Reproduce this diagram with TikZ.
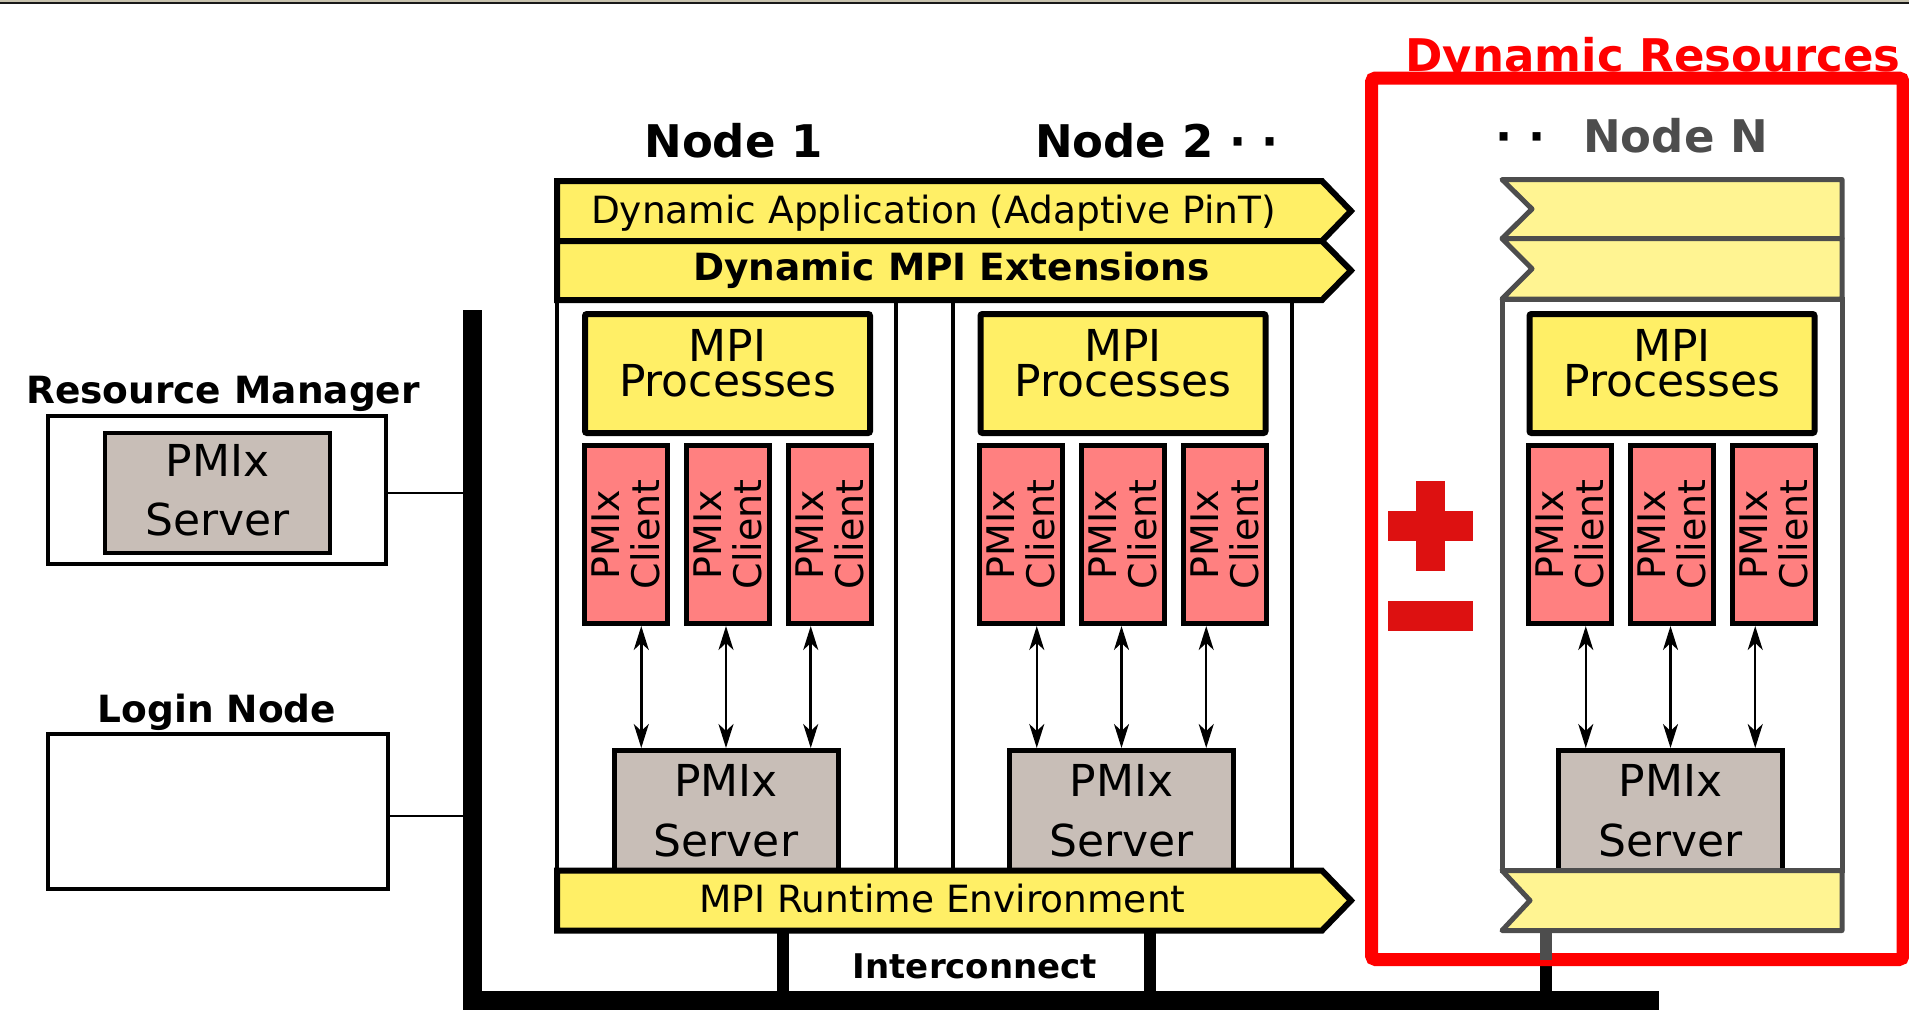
\documentclass[tikz,border=0pt]{standalone}
\usepackage{fontspec}
\setmainfont{DejaVu Sans}
\usetikzlibrary{arrows.meta,calc,positioning}

\definecolor{barfill}{HTML}{FFEF66}
\definecolor{barfaint}{HTML}{FFF492}
\definecolor{clifill}{HTML}{FF8080}
\definecolor{srvfill}{HTML}{C8BEB7}
\definecolor{dimgray}{HTML}{4D4D4D}
\definecolor{signred}{HTML}{DD1111}
\definecolor{rim}{HTML}{C8C3AF}

\begin{document}
\begin{tikzpicture}[x=1pt,y=-1pt]
        \tikzstyle{head}=[anchor=base,inner sep=0,font=\fontsize{45}{54}\selectfont\bfseries]
        \tikzstyle{sub}=[anchor=base,inner sep=0,font=\fontsize{37.5}{45}\selectfont\bfseries]
        \tikzstyle{bartxt}=[anchor=base,inner sep=0,font=\fontsize{37.5}{45}\selectfont]
        \tikzstyle{bar}=[draw=black,line width=6pt,fill=barfill]
        \tikzstyle{barN}=[draw=dimgray,line width=5pt,fill=barfaint,line join=round]
        \tikzstyle{container}=[draw=black,line width=4pt,inner sep=0,minimum width=339pt,minimum height=750pt]
        \tikzstyle{box}=[draw=black,line width=4pt,inner sep=0]
        \tikzstyle{procbox}=[draw=black,line width=6pt,fill=barfill,rounded corners=2pt,minimum width=285pt,minimum height=119pt,inner sep=0]
        \tikzstyle{proctxt}=[align=center,inner sep=0,yshift=10pt,font=\fontsize{44}{35}\selectfont]
        \tikzstyle{clibox}=[draw=black,line width=5pt,fill=clifill,minimum width=83pt,minimum height=178pt,inner sep=0]
        \tikzstyle{clitxt}=[align=center,inner sep=0,rotate=90,font=\fontsize{38}{40}\selectfont]
        \tikzstyle{server}=[draw=black,line width=5pt,fill=srvfill,minimum width=224pt,minimum height=120pt,inner sep=0,align=center,font=\fontsize{44}{60}\selectfont]
        \tikzstyle{link}=[line width=2.5pt,{Stealth[length=24pt,width=15pt,inset=7pt]}-{Stealth[length=24pt,width=15pt,inset=7pt]}]
        \tikzstyle{wire}=[line width=2.5pt]
        \tikzstyle{post}=[line width=12pt]
        \tikzstyle{sign}=[fill=signred,inner sep=0]

        \useasboundingbox (0,0) rectangle (1909,1015);
        \fill[rim] (0,0) rectangle (1909,1.5);
        \fill[black!90] (0,1.5) rectangle (1909,4);

        % compute nodes
        \node[container] (n1) at (726,556) {};
        \node[container] (n2) at (1122.5,556) {};
        \node[container,draw=dimgray,line width=5pt,minimum width=340pt,minimum height=571.5pt] (nN) at (1672,584.75) {};

        \foreach \k/\x in {1/727.5,2/1123,N/1672} {
          \node[server] (s\k) at (\x-1.5,810.5) {PMIx\\Server};
          \node[procbox] (p\k) at (\x,373.5) {};
          \node[proctxt] at (p\k) {MPI\\Processes};
          \foreach \i/\dx in {1/-102,2/0,3/102} {
            \node[clibox] (c\k\i) at (\x+\dx,534.5) {};
            \node[clitxt] at (c\k\i) {PMIx\\Client};
          }
          \foreach \i/\f in {1/0.13,2/0.5,3/0.87} {
            \path ($(s\k.north west)!\f!(s\k.north east)$) coordinate (t\k\i);
            \draw[link] (c\k\i.south -| t\k\i) -- (t\k\i);
          }
        }

        % layers across the nodes
        \draw[bar] (557,870.5) -- (1322,870.5) -- (1351,900.5) -- (1322,930.5) -- (557,930.5) -- cycle;
        \draw[bar] (557,181) -- (1322,181) -- (1351,211) -- (1322,241) -- (557,241) -- cycle;
        \draw[bar] (557,241) -- (1322,241) -- (1351,270.5) -- (1322,300) -- (557,300) -- cycle;
        \draw[barN] (1502,870.5) -- (1842,870.5) -- (1842,930.5) -- (1502,930.5) -- (1530,900.5) -- cycle;
        \draw[barN] (1502,179.5) -- (1842,179.5) -- (1842,238.5) -- (1502,238.5) -- (1532,209) -- cycle;
        \draw[barN] (1502,238.5) -- (1842,238.5) -- (1842,299) -- (1502,299) -- (1532,268.75) -- cycle;
        \node[bartxt] (apptxt) at (933.5,223) {Dynamic Application (Adaptive PinT)};
        \node[bartxt,font=\fontsize{37.5}{45}\selectfont\bfseries] (exttxt) at (951.5,280) {Dynamic MPI Extensions};
        \node[bartxt] (rtetxt) at (942.5,912) {MPI Runtime Environment};

        \node[head] (lab1) at (733.5,157) {Node 1};
        \node[head] (lab2) at (1157,157) {Node 2 · ·};
        \node[head] (dotsN) at (1520.5,152) {· ·};
        \node[head,text=dimgray] (labN) at (1675.5,152) {Node N};

        % resource manager and login node
        \node[box,minimum width=338pt,minimum height=148pt] (rm) at (217,490) {};
        \node[server,line width=4pt,minimum width=225pt,text depth=7pt,font=\fontsize{44}{59}\selectfont] (rmsrv) at (217.5,493) {PMIx\\Server};
        \node[sub] (rmlab) at (223,403) {Resource Manager};
        \node[box,minimum width=340pt,minimum height=155pt] (login) at (218,811.5) {};
        \node[sub] (loginlab) at (217,722) {Login Node};

        % interconnect
        \coordinate (bustop) at (472,310);
        \coordinate (buscorner) at (472,1000);
        \coordinate (busend) at (1659,1000);
        \coordinate (post1) at (783,930.5);
        \coordinate (post2) at (1150,930.5);
        \coordinate (postN) at (1546,930.5);
        \draw[wire] ([yshift=-3pt]rm.east) -- ([yshift=-3pt]rm.east -| bustop);
        \draw[wire] ([yshift=-4.5pt]login.east) -- ([yshift=-4.5pt]login.east -| bustop);
        \foreach \p in {post1,post2,postN}
          \draw[post] (\p) -- (\p |- busend);
        \draw[line width=19pt] (bustop) -- (buscorner) -- (busend);
        \node[anchor=base,inner sep=0,font=\fontsize{34}{40}\selectfont\bfseries] (ictxt) at (975,978) {Interconnect};

        % dynamic resources
        \node[anchor=base,inner sep=0,text=red,font=\fontsize{45}{54}\selectfont\bfseries] (dyntxt) at (1653,71) {Dynamic Resources};
        \node[draw=red,line width=13pt,rounded corners=4pt,inner sep=0,minimum width=531.5pt,minimum height=881.5pt] (dyn) at (1637.25,518.75) {};
        \draw[post,draw=dimgray,shorten >=6.5pt] (postN) -- (postN |- dyn.south);
        \node[sign,minimum width=85pt,minimum height=30pt] (plush) at (1430.5,526) {};
        \node[sign,minimum width=29pt,minimum height=90pt] (plusv) at (plush) {};
        \node[sign,minimum width=85pt,minimum height=30pt] (minus) at (1430.5,616) {};
\end{tikzpicture}
\end{document}
